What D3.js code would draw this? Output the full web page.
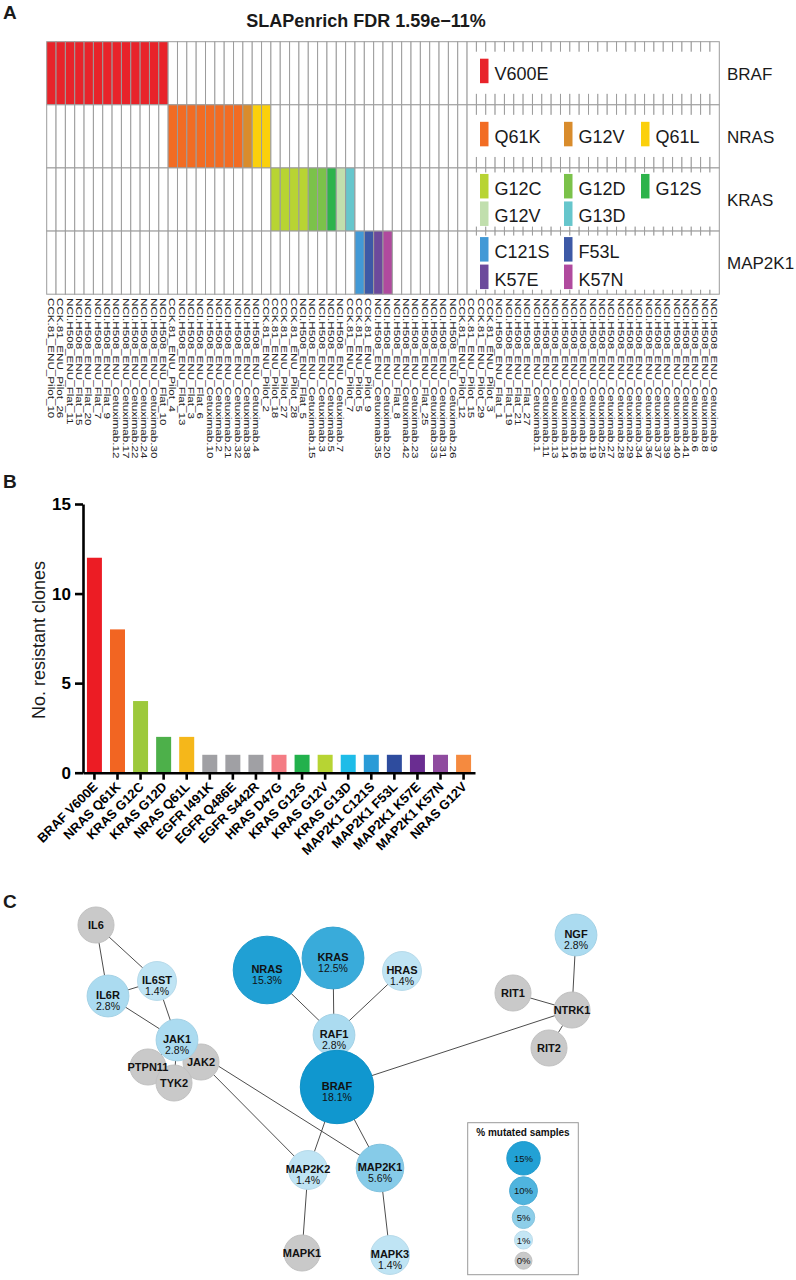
<!DOCTYPE html>
<html>
<head>
<meta charset="utf-8">
<script src="https://cdn.jsdelivr.net/npm/d3@7"></script>
<style>
  body { margin: 0; background: #fff; }
  svg { display: block; font-family: "Liberation Sans", Arial, Helvetica, sans-serif; }
</style>
</head>
<body>
<svg id="fig" width="796" height="1280"></svg>
<script>
// ---------------- Panel A: SLAPenrich heatmap ----------------
const samples = [
  "CCK.81_ENU_Pilot_10","CCK.81_ENU_Pilot_26","NCI.H508_ENU_Flat_11","NCI.H508_ENU_Flat_15",
  "NCI.H508_ENU_Flat_20","NCI.H508_ENU_Flat_7","NCI.H508_ENU_Flat_9","NCI.H508_ENU_Cetuximab.12",
  "NCI.H508_ENU_Cetuximab.17","NCI.H508_ENU_Cetuximab.22","NCI.H508_ENU_Cetuximab.24","NCI.H508_ENU_Cetuximab.30",
  "NCI.H508_ENU_Flat_10","CCK.81_ENU_Pilot_4","NCI.H508_ENU_Flat_13","NCI.H508_ENU_Flat_3",
  "NCI.H508_ENU_Flat_6","NCI.H508_ENU_Cetuximab.10","NCI.H508_ENU_Cetuximab.2","NCI.H508_ENU_Cetuximab.21",
  "NCI.H508_ENU_Cetuximab.32","NCI.H508_ENU_Cetuximab.38","NCI.H508_ENU_Cetuximab.4","CCK.81_ENU_Pilot_2",
  "CCK.81_ENU_Pilot_18","CCK.81_ENU_Pilot_27","CCK.81_ENU_Pilot_28","NCI.H508_ENU_Flat_5",
  "NCI.H508_ENU_Cetuximab.15","NCI.H508_ENU_Cetuximab.3","NCI.H508_ENU_Cetuximab.5","NCI.H508_ENU_Cetuximab.7",
  "CCK.81_ENU_Pilot_7","CCK.81_ENU_Pilot_5","CCK.81_ENU_Pilot_9","NCI.H508_ENU_Cetuximab.35",
  "NCI.H508_ENU_Cetuximab.20","NCI.H508_ENU_Flat_8","NCI.H508_ENU_Cetuximab.42","NCI.H508_ENU_Cetuximab.23",
  "NCI.H508_ENU_Flat_25","NCI.H508_ENU_Cetuximab.33","NCI.H508_ENU_Cetuximab.31","NCI.H508_ENU_Cetuximab.26",
  "CCK.81_ENU_Pilot_12","CCK.81_ENU_Pilot_15","CCK.81_ENU_Pilot_29","CCK.81_ENU_Pilot_3",
  "NCI.H508_ENU_Flat_1","NCI.H508_ENU_Flat_19","NCI.H508_ENU_Flat_21","NCI.H508_ENU_Flat_27",
  "NCI.H508_ENU_Cetuximab.1","NCI.H508_ENU_Cetuximab.11","NCI.H508_ENU_Cetuximab.13","NCI.H508_ENU_Cetuximab.14",
  "NCI.H508_ENU_Cetuximab.16","NCI.H508_ENU_Cetuximab.18","NCI.H508_ENU_Cetuximab.19","NCI.H508_ENU_Cetuximab.25",
  "NCI.H508_ENU_Cetuximab.27","NCI.H508_ENU_Cetuximab.28","NCI.H508_ENU_Cetuximab.29","NCI.H508_ENU_Cetuximab.34",
  "NCI.H508_ENU_Cetuximab.36","NCI.H508_ENU_Cetuximab.37","NCI.H508_ENU_Cetuximab.39","NCI.H508_ENU_Cetuximab.40",
  "NCI.H508_ENU_Cetuximab.41","NCI.H508_ENU_Cetuximab.6","NCI.H508_ENU_Cetuximab.8","NCI.H508_ENU_Cetuximab.9"
];
const genes = ["BRAF", "NRAS", "KRAS", "MAP2K1"];

const mutGene  = ["BRAF","NRAS","NRAS","NRAS","KRAS","KRAS","KRAS","KRAS","KRAS","MAP2K1","MAP2K1","MAP2K1","MAP2K1"];
const mutName  = ["V600E","Q61K","G12V","Q61L","G12C","G12D","G12S","G12V","G13D","C121S","F53L","K57E","K57N"];
const mutColor = ["#e8232a","#f26c23","#d98c2c","#fbd00c","#b8d433","#7bc24a","#2db34b","#c1dfad","#66c6cc","#4299d6","#3d59a6","#6c4a9c","#b04a9e"];

// mutation carried by each sample, in column order (samples after these carry none)
const sampleHit = [
  "BRAF V600E","BRAF V600E","BRAF V600E","BRAF V600E","BRAF V600E","BRAF V600E","BRAF V600E",
  "BRAF V600E","BRAF V600E","BRAF V600E","BRAF V600E","BRAF V600E","BRAF V600E",
  "NRAS Q61K","NRAS Q61K","NRAS Q61K","NRAS Q61K","NRAS Q61K","NRAS Q61K","NRAS Q61K","NRAS Q61K",
  "NRAS G12V","NRAS Q61L","NRAS Q61L",
  "KRAS G12C","KRAS G12C","KRAS G12C","KRAS G12C","KRAS G12D","KRAS G12D","KRAS G12S","KRAS G12V","KRAS G13D",
  "MAP2K1 C121S","MAP2K1 F53L","MAP2K1 K57E","MAP2K1 K57N"
];
const legendPerLine = { BRAF: 1, NRAS: 3, KRAS: 3, MAP2K1: 2 };

// ---------------- Panel B: resistant clones ----------------
const barLabels = ["BRAF V600E","NRAS Q61K","KRAS G12C","KRAS G12D","NRAS Q61L","EGFR I491K","EGFR Q486E",
  "EGFR S442R","HRAS D47G","KRAS G12S","KRAS G12V","KRAS G13D","MAP2K1 C121S","MAP2K1 F53L",
  "MAP2K1 K57E","MAP2K1 K57N","NRAS G12V"];
const barValues = [12, 8, 4, 2, 2, 1, 1, 1, 1, 1, 1, 1, 1, 1, 1, 1, 1];
const barColors = ["#ec1c24","#f26522","#9dc93b","#4db04a","#f5b71a","#a0a0a4","#a0a0a4","#a0a0a4",
  "#f47c84","#22b14c","#b7d433","#1ebce8","#2a9bd7","#2e4c9e","#6a2d91","#8f4b9f","#f58a3f"];
const yTicks = [0, 5, 10, 15];

// ---------------- Panel C: network ----------------
const nodeNames = ["IL6","IL6ST","IL6R","PTPN11","JAK2","TYK2","JAK1","NRAS","KRAS","HRAS","RAF1","BRAF",
  "NGF","RIT1","NTRK1","RIT2","MAP2K2","MAP2K1","MAPK1","MAPK3"];
const nodePct = [0, 1.4, 2.8, 0, 0, 0, 2.8, 15.3, 12.5, 1.4, 2.8, 18.1, 2.8, 0, 0, 0, 1.4, 5.6, 0, 1.4];
const edges = [
  ["IL6","IL6R"],["IL6","IL6ST"],["IL6ST","IL6R"],["IL6ST","JAK1"],["IL6R","JAK1"],
  ["JAK1","PTPN11"],["JAK1","JAK2"],["JAK1","TYK2"],["JAK1","MAP2K1"],["JAK2","MAP2K2"],
  ["NRAS","RAF1"],["KRAS","RAF1"],["HRAS","RAF1"],["RAF1","BRAF"],["BRAF","NTRK1"],
  ["BRAF","MAP2K2"],["BRAF","MAP2K1"],["MAP2K2","MAPK1"],["MAP2K1","MAPK3"],
  ["NTRK1","NGF"],["NTRK1","RIT1"],["NTRK1","RIT2"]
];
const legendPct = [15, 10, 5, 1, 0];

// layout of the network (panel units, mapped by scales below)
const layoutX = { IL6:96, IL6ST:157, IL6R:108, PTPN11:148, JAK2:201, TYK2:174, JAK1:177, NRAS:267, KRAS:333,
  HRAS:402, RAF1:334, BRAF:337, NGF:576, RIT1:513, NTRK1:572, RIT2:549, MAP2K2:308, MAP2K1:380, MAPK1:302, MAPK3:390 };
const layoutY = { IL6:80, IL6ST:136, IL6R:151, PTPN11:222, JAK2:217, TYK2:238, JAK1:195, NRAS:125, KRAS:113,
  HRAS:126, RAF1:190, BRAF:242, NGF:90, RIT1:148, NTRK1:165, RIT2:203, MAP2K2:325, MAP2K1:323, MAPK1:408, MAPK3:410 };

// =================================================================
const svg = d3.select("#fig");
const ink = "#1a1a1a";

// panel letters
svg.selectAll("text.panel")
  .data([["A", 19], ["B", 488], ["C", 908]])
  .join("text")
  .attr("class", "panel")
  .attr("x", 3).attr("y", d => d[1])
  .attr("font-size", 19).attr("font-weight", "bold").attr("fill", ink)
  .text(d => d[0]);

// ---------- Panel A ----------
const gA = svg.append("g");
const xA = d3.scaleBand().domain(samples).range([46.7, 719.3]);
const yA = d3.scaleBand().domain(genes).range([41.7, 294.2]);
const hitColor = {};
mutName.forEach((m, i) => { hitColor[mutGene[i] + " " + m] = mutColor[i]; });

gA.append("text")
  .attr("x", 366).attr("y", 27).attr("text-anchor", "middle")
  .attr("font-size", 18).attr("font-weight", "bold").attr("fill", ink)
  .text("SLAPenrich FDR 1.59e\u221211%");

const cells = [];
genes.forEach(g => samples.forEach((s, i) => {
  const hit = sampleHit[i] || "";
  cells.push({ gene: g, sample: s, fill: hit.startsWith(g + " ") ? hitColor[hit] : "#fff" });
}));
gA.selectAll("rect.cell").data(cells).join("rect")
  .attr("class", "cell")
  .attr("x", d => xA(d.sample)).attr("y", d => yA(d.gene))
  .attr("width", xA.bandwidth()).attr("height", yA.bandwidth())
  .attr("fill", d => d.fill).attr("stroke", "#9c9c9c").attr("stroke-width", 1);

// legend boxes inside each row
const slotX = [480, 564, 641];
genes.forEach(g => {
  const idx = mutGene.map((mg, i) => mg === g ? i : -1).filter(i => i >= 0);
  const per = legendPerLine[g];
  const lines = Math.ceil(idx.length / per);
  const top = yA(g), h = yA.bandwidth();
  const inTop = lines === 1 ? 10 : 4.5, inBot = lines === 1 ? 11 : 4.5;
  gA.append("rect")
    .attr("x", 468).attr("y", top + inTop)
    .attr("width", 248).attr("height", h - inTop - inBot)
    .attr("fill", "#fff");
  idx.forEach((mi, k) => {
    const line = Math.floor(k / per), col = k % per;
    const ry = lines === 1 ? top + 17 : top + 6 + line * 27.5;
    gA.append("rect")
      .attr("x", slotX[col]).attr("y", ry).attr("width", 8.5).attr("height", 24.5)
      .attr("fill", mutColor[mi]);
    gA.append("text")
      .attr("x", slotX[col] + 14.5).attr("y", ry + 21)
      .attr("font-size", 18).attr("fill", ink)
      .text(mutName[mi]);
  });
  gA.append("text")
    .attr("x", 727).attr("y", top + h / 2 + 6.5)
    .attr("font-size", 17).attr("fill", ink)
    .text(g);
});

// sample labels, rotated and slightly stretched along their length like the original
gA.selectAll("text.sample").data(samples).join("text")
  .attr("class", "sample")
  .attr("transform", d => `translate(${xA(d) + xA.bandwidth() / 2 - 3.5},298) rotate(90) scale(1.06,0.9)`)
  .attr("font-size", 11).attr("fill", "#222")
  .text(d => d);

// ---------- Panel B ----------
const gB = svg.append("g");
const xB = d3.scaleBand().domain(barLabels).range([83, 475]).paddingInner(0.35).paddingOuter(0.17);
const yB = d3.scaleLinear().domain([0, 15]).range([772.7, 504]);

gB.selectAll("rect.bar").data(barLabels).join("rect")
  .attr("class", "bar")
  .attr("x", d => xB(d)).attr("width", xB.bandwidth())
  .attr("y", (d, i) => yB(barValues[i]))
  .attr("height", (d, i) => yB(0) - yB(barValues[i]))
  .attr("fill", (d, i) => barColors[i]);

const yAxis = gB.append("g")
  .attr("transform", "translate(83,0)")
  .call(d3.axisLeft(yB).tickValues(yTicks).tickSize(8).tickSizeOuter(0).tickPadding(4));
yAxis.selectAll("text").attr("font-size", 17).attr("font-weight", "bold")
  .attr("font-family", "Liberation Sans, Arial, sans-serif").attr("fill", "#000");

const xAxis = gB.append("g")
  .attr("transform", "translate(0,772.7)")
  .call(d3.axisBottom(xB).tickSize(7).tickSizeOuter(0));
xAxis.selectAll("text")
  .attr("x", 0).attr("y", 0).attr("dy", 0)
  .attr("transform", "translate(4,15) rotate(-45)")
  .style("text-anchor", "end")
  .attr("font-size", 13).attr("font-weight", "bold")
  .attr("font-family", "Liberation Sans, Arial, sans-serif").attr("fill", "#000");

[yAxis, xAxis].forEach(ax => {
  ax.select(".domain").attr("stroke", "#000").attr("stroke-width", 2.6);
  ax.selectAll(".tick line").attr("stroke", "#000").attr("stroke-width", 2.6);
});

gB.append("text")
  .attr("transform", "translate(45,640) rotate(-90)")
  .attr("text-anchor", "middle")
  .attr("font-size", 18).attr("fill", ink)
  .text("No. resistant clones");

// ---------- Panel C ----------
const gC = svg.append("g");
const xC = d3.scaleLinear().domain([0, 796]).range([0, 796]);
const yC = d3.scaleLinear().domain([0, 400]).range([845, 1245]);
const rC = d3.scaleLinear().domain([0, 18.1]).range([18, 36.7]);
const colC = d3.scaleLinear().domain([1, 5, 10, 15, 18.1])
  .range(["#c4e6f5", "#8dcee9", "#4fb4de", "#22a1d5", "#1097cf"]);
const fillC = p => p > 0 ? colC(p) : "#c9c9c9";

const nodes = nodeNames.map((n, i) => ({ name: n, pct: nodePct[i], x: xC(layoutX[n]), y: yC(layoutY[n]) }));
const byName = Object.fromEntries(nodes.map(n => [n.name, n]));

gC.selectAll("line.edge").data(edges).join("line")
  .attr("class", "edge")
  .attr("x1", d => byName[d[0]].x).attr("y1", d => byName[d[0]].y)
  .attr("x2", d => byName[d[1]].x).attr("y2", d => byName[d[1]].y)
  .attr("stroke", "#4d4d4d").attr("stroke-width", 1);

gC.selectAll("circle.node").data(nodes).join("circle")
  .attr("class", "node")
  .attr("cx", d => d.x).attr("cy", d => d.y).attr("r", d => rC(d.pct))
  .attr("fill", d => fillC(d.pct))
  .attr("stroke", d => d3.color(fillC(d.pct)).darker(0.12)).attr("stroke-width", 1);

gC.selectAll("text.nname").data(nodes).join("text")
  .attr("class", "nname")
  .attr("x", d => d.x).attr("y", d => d.pct > 0 ? d.y + 3 : d.y + 4)
  .attr("text-anchor", "middle").attr("font-size", 11).attr("font-weight", "bold").attr("fill", "#111")
  .text(d => d.name);
gC.selectAll("text.npct").data(nodes.filter(d => d.pct > 0)).join("text")
  .attr("class", "npct")
  .attr("x", d => d.x).attr("y", d => d.y + 13.5)
  .attr("text-anchor", "middle").attr("font-size", 10.5).attr("fill", "#111")
  .text(d => d.pct.toFixed(1) + "%");

// size legend
const lr = d3.scaleLinear().domain([0, 15]).range([8.5, 16.7]);
const ly = d3.scaleOrdinal().domain(legendPct).range([1158.3, 1190.7, 1217.3, 1240, 1260.7]);
gC.append("rect")
  .attr("x", 467.7).attr("y", 1122.7).attr("width", 110.6).attr("height", 152)
  .attr("fill", "none").attr("stroke", "#9a9a9a").attr("stroke-width", 1);
gC.append("text")
  .attr("x", 523).attr("y", 1136).attr("text-anchor", "middle")
  .attr("font-size", 10).attr("font-weight", "bold").attr("fill", "#111")
  .text("% mutated samples");
gC.selectAll("circle.leg").data(legendPct).join("circle")
  .attr("class", "leg")
  .attr("cx", 523.5).attr("cy", d => ly(d)).attr("r", d => lr(d))
  .attr("fill", d => fillC(d))
  .attr("stroke", d => d3.color(fillC(d)).darker(0.12)).attr("stroke-width", 1);
gC.selectAll("text.leg").data(legendPct).join("text")
  .attr("class", "leg")
  .attr("x", 523.5).attr("y", d => ly(d) + 3.5)
  .attr("text-anchor", "middle").attr("font-size", 9.5).attr("fill", "#111")
  .text(d => d + "%");
</script>
</body>
</html>
